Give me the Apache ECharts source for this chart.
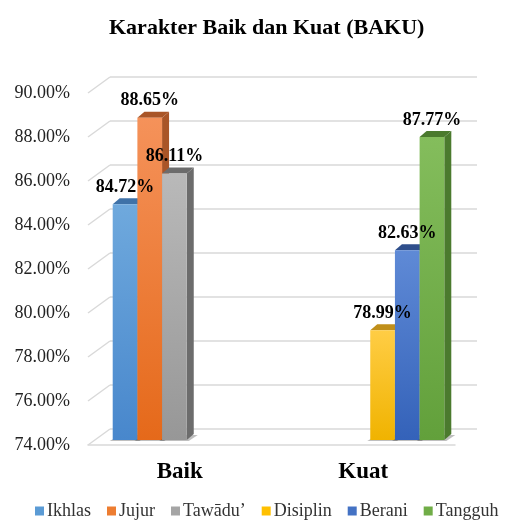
<!DOCTYPE html>
<html>
<head>
<meta charset="utf-8">
<script src="https://cdn.jsdelivr.net/npm/echarts@6/dist/echarts.min.js"></script>
<style>
  html, body { margin: 0; padding: 0; background: #fff; }
  #chart { width: 508px; height: 520px; }
</style>
</head>
<body>
<div id="chart"></div>
<script>
// data
const categories = ['Baik', 'Kuat']
const seriesNames = ['Ikhlas', 'Jujur', 'Tawādu’', 'Disiplin', 'Berani', 'Tangguh']
const seriesCategory = [0, 0, 0, 1, 1, 1]
const seriesValues = [84.72, 88.65, 86.11, 78.99, 82.63, 87.77]
const yMin = 74
const yMax = 90
const yStep = 2
const yTicks = [74, 76, 78, 80, 82, 84, 86, 88, 90]

// colours: [top, bottom, side]
const colors = [
  ['#6fa9dd', '#4887cc', '#3f72a8'],
  ['#f5925a', '#e5691a', '#a95527'],
  ['#b9b9b9', '#979797', '#6c6c6c'],
  ['#ffcd45', '#f0b300', '#c08f1a'],
  ['#5f8ad6', '#3462b9', '#2f4f8c'],
  ['#84bd5c', '#62a03b', '#4b7a2e']
]
const legendColors = ['#5b9bd5', '#ed7d31', '#a5a5a5', '#ffc000', '#4472c4', '#70ad47']

const FONT = '"Liberation Serif", "Times New Roman", serif'
const WALL_DX = 22, WALL_DY = -16   // back wall offset
const BAR_DX = 7, BAR_DY = -5       // bar plane offset
const DEPTH_X = 7, DEPTH_Y = -6     // bar depth
const GROUP = 0.807                 // part of band used by the 6 slots

const chart = echarts.init(document.getElementById('chart'))

const barSeries = seriesNames.map((name, s) => ({
  name: name,
  type: 'custom',
  xAxisIndex: 0,
  yAxisIndex: 0,
  itemStyle: { color: legendColors[s] },
  data: [[seriesCategory[s], seriesValues[s]]],
  renderItem: (params, api) => {
    const cat = api.value(0)
    const val = api.value(1)
    const band = api.size([1, 0])[0]
    const top = api.coord([cat, val])
    const base = api.coord([cat, yMin])
    const slotW = band * GROUP / 6
    const x0 = top[0] - band * GROUP / 2 + s * slotW + BAR_DX
    const x1 = x0 + slotW
    const yT = top[1] + BAR_DY
    const yB = base[1] + BAR_DY
    const c = colors[s]
    return {
      type: 'group',
      children: [
        {
          type: 'polygon',
          shape: { points: [[x0 - 3, yB + 1], [x1 + 2, yB + 1], [x1 + DEPTH_X + 4, yB + DEPTH_Y + 1], [x0 + DEPTH_X, yB + DEPTH_Y + 1]] },
          style: { fill: 'rgba(0,0,0,0.25)' }
        },
        {
          type: 'polygon',
          shape: { points: [[x1, yT], [x1 + DEPTH_X, yT + DEPTH_Y], [x1 + DEPTH_X, yB + DEPTH_Y], [x1, yB]] },
          style: { fill: c[2] }
        },
        {
          type: 'polygon',
          shape: { points: [[x0, yT], [x0 + DEPTH_X, yT + DEPTH_Y], [x1 + DEPTH_X, yT + DEPTH_Y], [x1, yT]] },
          style: { fill: c[2] }
        },
        {
          type: 'rect',
          shape: { x: x0, y: yT, width: x1 - x0, height: yB - yT },
          style: {
            fill: new echarts.graphic.LinearGradient(0, 0, 0, 1, [
              { offset: 0, color: c[0] },
              { offset: 1, color: c[1] }
            ])
          }
        },
        {
          type: 'text',
          z2: 100,
          style: {
            text: val.toFixed(2) + '%',
            x: (x0 + x1) / 2,
            y: yT - 17,
            align: 'center',
            verticalAlign: 'middle',
            font: 'bold 18px ' + FONT,
            fill: '#000'
          }
        }
      ]
    }
  }
}))

// side wall diagonals
const wallSeries = {
  type: 'custom',
  xAxisIndex: 0,
  yAxisIndex: 0,
  silent: true,
  z: 1,
  legendHoverLink: false,
  data: yTicks.map(v => [0, v]),
  renderItem: (params, api) => {
    const p = api.coord([0, api.value(1)])
    const x = params.coordSys.x
    return {
      type: 'line',
      shape: { x1: x, y1: p[1], x2: x + WALL_DX, y2: p[1] + WALL_DY },
      style: { stroke: '#d9d9d9', lineWidth: 1.5 }
    }
  }
}

const option = {
  animation: false,
  backgroundColor: '#fff',
  title: {
    text: 'Karakter Baik dan Kuat (BAKU)',
    left: 104,
    top: 12,
    textStyle: { fontFamily: FONT, fontSize: 22, fontWeight: 'bold', color: '#000' }
  },
  legend: {
    data: seriesNames,
    top: 497,
    left: 30,
    icon: 'rect',
    itemWidth: 9,
    itemHeight: 9,
    itemGap: 16,
    textStyle: { fontFamily: FONT, fontSize: 18, color: '#333', padding: [0, 0, 0, -2] }
  },
  grid: [
    { left: 88, right: 53, top: 93, bottom: 75 },
    { left: 88 + WALL_DX, right: 53 - WALL_DX, top: 93 + WALL_DY, bottom: 75 - WALL_DY }
  ],
  xAxis: [
    {
      gridIndex: 0,
      type: 'category',
      data: categories,
      axisLine: { show: true, lineStyle: { color: '#d9d9d9', width: 1.5 } },
      axisTick: { show: false },
      axisLabel: { margin: 16, fontFamily: FONT, fontSize: 23, fontWeight: 'bold', color: '#000' }
    },
    { gridIndex: 1, type: 'category', data: categories, show: false }
  ],
  yAxis: [
    {
      gridIndex: 0,
      type: 'value',
      min: yMin,
      max: yMax,
      interval: yStep,
      splitLine: { show: false },
      axisLine: { show: false },
      axisTick: { show: false },
      axisLabel: {
        margin: 18,
        fontFamily: FONT,
        fontSize: 18,
        color: '#222',
        formatter: v => v.toFixed(2) + '%'
      }
    },
    {
      gridIndex: 1,
      type: 'value',
      min: yMin,
      max: yMax,
      interval: yStep,
      axisLine: { show: false },
      axisTick: { show: false },
      axisLabel: { show: false },
      splitLine: { show: true, lineStyle: { color: '#d9d9d9', width: 1.5 } }
    }
  ],
  series: [wallSeries].concat(barSeries)
}

chart.setOption(option)
</script>
</body>
</html>
